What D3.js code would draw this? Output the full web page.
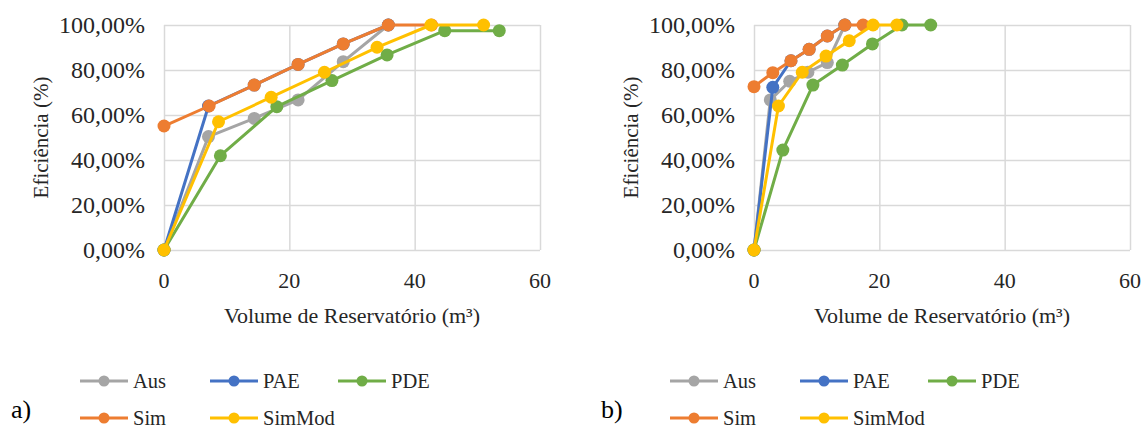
<!DOCTYPE html>
<html>
<head>
<meta charset="utf-8">
<script src="https://cdn.jsdelivr.net/npm/d3@7"></script>
<style>
  body { margin: 0; background: #fff; }
</style>
</head>
<body>
<div id="my_dataviz"></div>
<script>
var seriesNames = ["Aus", "PAE", "PDE", "Sim", "SimMod"];
var xTicks = [0, 20, 40, 60];
var yTicks = [0, 0.2, 0.4, 0.6, 0.8, 1.0];

// panel a) : [volume m3, efficiency]
var aAus    = [[0,0],[7.1,0.504],[14.4,0.585],[21.4,0.667],[28.6,0.837],[35.8,1.0]];
var aPAE    = [[0,0],[7.1,0.64],[14.4,0.733],[21.4,0.825],[28.6,0.916],[35.8,1.0]];
var aPDE    = [[0,0],[9.0,0.419],[18.0,0.637],[26.8,0.753],[35.6,0.867],[44.8,0.975],[53.5,0.975]];
var aSim    = [[0,0.551],[7.2,0.64],[14.4,0.733],[21.4,0.825],[28.6,0.916],[35.8,1.0],[42.7,1.0]];
var aSimMod = [[0,0],[8.7,0.57],[17.1,0.679],[25.6,0.79],[34.0,0.901],[42.6,1.0],[51.0,1.0]];

// panel b)
var bAus    = [[0,0],[2.6,0.667],[5.7,0.75],[8.6,0.79],[11.7,0.833],[14.5,1.0]];
var bPAE    = [[0,0],[3.0,0.723],[5.9,0.841],[8.8,0.892],[11.7,0.951],[14.5,1.0]];
var bPDE    = [[0,0],[4.6,0.444],[9.4,0.733],[14.1,0.822],[18.9,0.916],[23.6,1.0],[28.2,1.0]];
var bSim    = [[0,0.726],[3.0,0.788],[5.9,0.841],[8.8,0.892],[11.7,0.951],[14.5,1.0],[17.4,1.0]];
var bSimMod = [[0,0],[3.9,0.64],[7.7,0.79],[11.5,0.862],[15.2,0.93],[19.0,1.0],[22.8,1.0]];

var color = d3.scaleOrdinal()
  .domain(seriesNames)
  .range(["#A5A5A5", "#4472C4", "#70AD47", "#ED7D31", "#FFC000"]);

var FONT = "'Liberation Serif'";

var svg = d3.select("#my_dataviz")
  .append("svg")
    .attr("width", 1143)
    .attr("height", 428);

var fmt = function(v) { return d3.format(".2f")(v * 100).replace(".", ",") + "%"; };

function addText(sel, x, y, anchor, size, txt) {
  return sel.append("text")
    .attr("x", x).attr("y", y)
    .attr("text-anchor", anchor)
    .style("font-family", FONT)
    .style("font-size", size + "px")
    .style("fill", "#262626")
    .text(txt);
}

function drawPanel(left, series, label) {
  var width = 376, height = 225, top = 25;
  var g = svg.append("g").attr("transform", "translate(" + left + "," + top + ")");

  var x = d3.scaleLinear().domain([0, 60]).range([0, width]);
  var y = d3.scaleLinear().domain([0, 1]).range([height, 0]);

  // grid
  g.append("g")
    .call(d3.axisLeft(y).tickValues(yTicks).tickSize(-width).tickFormat(""))
    .call(function(s) { s.select(".domain").remove(); })
    .selectAll("line").attr("stroke", "#D9D9D9").attr("stroke-width", 1.5);
  g.append("g")
    .call(d3.axisBottom(x).tickValues(xTicks).tickSize(height).tickFormat(""))
    .call(function(s) { s.select(".domain").remove(); })
    .selectAll("line").attr("stroke", "#D9D9D9").attr("stroke-width", 1.5);

  // tick labels
  yTicks.forEach(function(d) {
    addText(g, -19, y(d) + 7.5, "end", 24, fmt(d));
  });
  xTicks.forEach(function(d) {
    addText(g, x(d), height + 38, "middle", 22, d);
  });

  addText(g, 0, 0, "middle", 21, "Eficiência (%)")
    .attr("transform", "translate(" + (-116) + "," + (height / 2) + ") rotate(-90)");
  addText(g, width / 2, height + 73, "middle", 22, "Volume de Reservatório (m³)");

  var line = d3.line()
    .x(function(d) { return x(d[0]); })
    .y(function(d) { return y(d[1]); });

  seriesNames.forEach(function(name, i) {
    var data = series[i];
    g.append("path").datum(data)
      .attr("d", line)
      .attr("fill", "none")
      .attr("stroke", color(name))
      .attr("stroke-width", 3)
      .attr("stroke-linejoin", "round");
    g.selectAll(".pt" + i).data(data).enter().append("circle")
      .attr("cx", function(d) { return x(d[0]); })
      .attr("cy", function(d) { return y(d[1]); })
      .attr("r", 6.5)
      .attr("fill", color(name));
  });

  // legend
  var lg = svg.append("g").attr("transform", "translate(" + (left - 84) + ",0)");
  var pos = [[0, 381], [130, 381], [258, 381], [0, 418], [130, 418]];
  seriesNames.forEach(function(name, i) {
    var p = pos[i];
    lg.append("line")
      .attr("x1", p[0]).attr("x2", p[0] + 48)
      .attr("y1", p[1]).attr("y2", p[1])
      .attr("stroke", color(name)).attr("stroke-width", 3);
    lg.append("circle").attr("cx", p[0] + 24).attr("cy", p[1]).attr("r", 5.5)
      .attr("fill", color(name));
    addText(lg, p[0] + 53, p[1] + 6.5, "start", 20.5, name);
  });

  addText(svg, left - 153, 418, "start", 26, label).style("fill", "#000");
}

drawPanel(164, [aAus, aPAE, aPDE, aSim, aSimMod], "a)");
drawPanel(754, [bAus, bPAE, bPDE, bSim, bSimMod], "b)");
</script>
</body>
</html>
